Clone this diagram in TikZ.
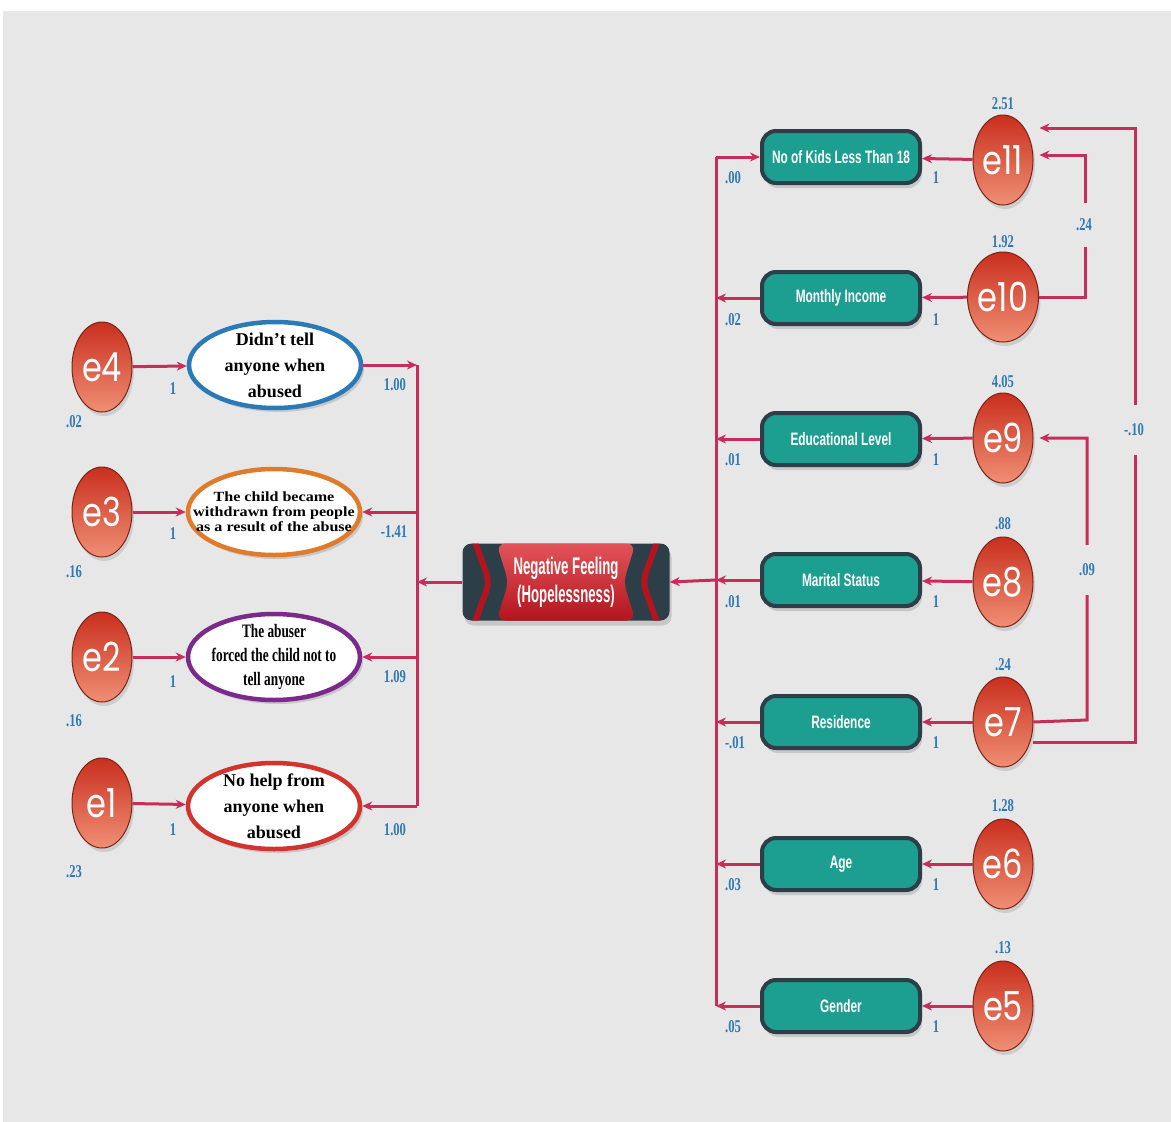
\documentclass[tikz,border=0pt]{standalone}
\usepackage{fontspec}
\setmainfont{Liberation Serif}
\newfontfamily\numfont[FakeStretch=0.7]{Liberation Serif}
\newfontfamily\boxfont[FakeStretch=0.66]{Liberation Sans}
\newfontfamily\negfont[FakeStretch=0.55]{Liberation Sans}
\newfontfamily\wideserif[FakeStretch=1.15]{Liberation Serif}
\newfontfamily\efont[FakeStretch=0.8]{Poppins}
\usetikzlibrary{shapes.geometric,arrows.meta,shadows,calc}
\definecolor{bg}{HTML}{E7E7E7}
\definecolor{conn}{HTML}{C82C5A}
\definecolor{lab}{HTML}{2E78B4}
\definecolor{tealbox}{HTML}{1C9E90}
\definecolor{slate}{HTML}{2C3E48}
\definecolor{ered}{HTML}{C92F1E}
\definecolor{elight}{HTML}{EF8F74}
\definecolor{eborder}{HTML}{7A2418}
\definecolor{redtop}{HTML}{E2545A}
\definecolor{redbot}{HTML}{B3141E}
\definecolor{ib}{HTML}{2A7AB8}
\definecolor{io}{HTML}{E07B2C}
\definecolor{ip}{HTML}{7B2A8C}
\definecolor{ir}{HTML}{D0342C}
\tikzset{
  x=1pt, y=-1pt,
  wire/.style={draw=conn, line width=3pt},
  conn/.style={wire, -{Stealth[length=10pt,width=9pt]}},
  lbl/.style={text=lab, font=\numfont\bfseries\fontsize{18}{18}\selectfont, inner sep=0},
  gaplbl/.style={lbl, fill=bg, minimum height=44pt, inner xsep=2pt},
  errnode/.style={ellipse, minimum width=60pt, minimum height=90pt, inner sep=0,
    draw=eborder, line width=1pt, top color=ered, bottom color=elight, text=white,
    font=\efont\fontsize{40}{40}\selectfont,
    drop shadow={opacity=0.25, shadow xshift=2pt, shadow yshift=-4pt}},
  item/.style={ellipse, minimum width=172pt, minimum height=86pt, fill=white,
    line width=4.5pt, inner sep=0,
    drop shadow={opacity=0.3, shadow xshift=3pt, shadow yshift=-4pt}},
  itemtext/.style={align=center, inner sep=0},
  varbox/.style={rounded corners=14pt, minimum width=158pt, minimum height=52pt,
    fill=tealbox, draw=slate, line width=4pt, text=white,
    font=\boxfont\bfseries\fontsize{18}{18}\selectfont,
    drop shadow={opacity=0.3, shadow xshift=2pt, shadow yshift=-5pt}},
}
\begin{document}
\begin{tikzpicture}
\useasboundingbox (0,0) rectangle (1171,1122);
\fill[white] (0,0) rectangle (1171,1122);
\fill[bg] (3,11) rectangle (1171,1122);

% ---------- left side ----------
\node[errnode] (e4) at (102,367) {e4};
\node[errnode] (e3) at (102,512) {e3};
\node[errnode] (e2) at (102,657) {e2};
\node[errnode] (e1) at (102,803) {e1};

\node[item, draw=ib, label={[itemtext, font=\bfseries\fontsize{18}{26}\selectfont]center:Didn't tell\\anyone when\\abused}] (i4) at (275,365) {};
\node[item, draw=io, label={[itemtext, font=\wideserif\bfseries\fontsize{14}{15}\selectfont]center:The child became\\withdrawn from people\\as a result of the abuse}] (i3) at (274,512) {};
\node[item, draw=ip, label={[itemtext, font=\numfont\bfseries\fontsize{19}{24}\selectfont]center:The abuser\\forced the child not to\\tell anyone}] (i2) at (274,657) {};
\node[item, draw=ir, label={[itemtext, font=\bfseries\fontsize{18}{26}\selectfont]center:No help from\\anyone when\\abused}] (i1) at (274,806) {};

\draw[conn] (e4) -- (i4);
\draw[conn] (e3) -- (i3);
\draw[conn] (e2) -- (i2);
\draw[conn] (e1) -- (i1);

\coordinate (lb4) at (417,365);
\coordinate (lb3) at (417,512);
\coordinate (lb2) at (417,657);
\coordinate (lb1) at (417,806);
\coordinate (lbc) at (417,582);
\draw[wire] (lb4) -- (lb1);
\draw[conn] (i4.east) -- (lb4);
\draw[conn] (lb3) -- (i3.east);
\draw[conn] (lb2) -- (i2.east);
\draw[conn] (lb1) -- (i1.east);

\node[lbl] (l1a) at (173,389) {1};
\node[lbl] (l1b) at (173,534) {1};
\node[lbl] (l1c) at (173,682) {1};
\node[lbl] (l1d) at (173,830) {1};
\node[lbl] (v4) at (74,422) {.02};
\node[lbl] (v3) at (74,572) {.16};
\node[lbl] (v2) at (74,721) {.16};
\node[lbl] (v1) at (74,872) {.23};
\node[lbl] (w4) at (395,385) {1.00};
\node[lbl] (w3) at (394,532) {-1.41};
\node[lbl] (w2) at (395,677) {1.09};
\node[lbl] (w1) at (395,830) {1.00};

% ---------- central latent ----------
\node[rounded corners=9pt, minimum width=207pt, minimum height=77pt, fill=slate,
  text=white, align=center, inner sep=0,
  font=\negfont\bfseries\fontsize{24}{28}\selectfont,
  drop shadow={opacity=0.3, shadow xshift=2pt, shadow yshift=-5pt},
  path picture={
    \coordinate (pnw) at (path picture bounding box.north west);
    \coordinate (psw) at (path picture bounding box.south west);
    \coordinate (pne) at (path picture bounding box.north east);
    \coordinate (pse) at (path picture bounding box.south east);
    \shade[top color=redtop, bottom color=redbot]
      ($(pnw)+(34pt,0)$) -- ($(pne)+(-34pt,0)$) -- ($(pne)!0.5!(pse)+(-46pt,0)$)
      -- ($(pse)+(-34pt,0)$) -- ($(psw)+(34pt,0)$) -- ($(pnw)!0.5!(psw)+(46pt,0)$) -- cycle;
    \draw[redbot, line width=6pt] ($(pnw)+(12pt,3pt)$) -- ($(pnw)!0.5!(psw)+(27pt,0)$) -- ($(psw)+(12pt,-3pt)$);
    \draw[redbot, line width=6pt] ($(pne)+(-12pt,3pt)$) -- ($(pne)!0.5!(pse)+(-27pt,0)$) -- ($(pse)+(-12pt,-3pt)$);
  }] (neg) at (566,582) {Negative Feeling\\(Hopelessness)};

\draw[conn] (neg.west) -- (lbc);

% ---------- right side ----------
\node[varbox] (kids) at (841,157) {No of Kids Less Than 18};
\node[varbox] (inc) at (841,298) {Monthly Income};
\node[varbox] (edu) at (841,439) {Educational Level};
\node[varbox] (mar) at (841,580) {Marital Status};
\node[varbox] (res) at (841,722) {Residence};
\node[varbox] (age) at (841,864) {Age};
\node[varbox] (gen) at (841,1006) {Gender};

\node[errnode] (e11) at (1003,160) {e11};
\node[errnode] (e10) at (1003,297) {e10};
\node[errnode] (e9) at (1003,438) {e9};
\node[errnode] (e8) at (1003,582) {e8};
\node[errnode] (e7) at (1003,722) {e7};
\node[errnode] (e6) at (1003,864) {e6};
\node[errnode] (e5) at (1003,1006) {e5};

\draw[conn] (e11) -- (kids);
\draw[conn] (e10) -- (inc);
\draw[conn] (e9) -- (edu);
\draw[conn] (e8) -- (mar);
\draw[conn] (e7) -- (res);
\draw[conn] (e6) -- (age);
\draw[conn] (e5) -- (gen);

\coordinate (rb1) at (716,157);
\coordinate (rb2) at (716,298);
\coordinate (rb3) at (716,439);
\coordinate (rb4) at (716,580);
\coordinate (rb5) at (716,722);
\coordinate (rb6) at (716,864);
\coordinate (rb7) at (716,1006);
\draw[wire] (rb1) -- (rb7);
\draw[conn] (rb1) -- (kids.west);
\draw[conn] (inc.west) -- (rb2);
\draw[conn] (edu.west) -- (rb3);
\draw[conn] (mar.west) -- (rb4);
\draw[conn] (res.west) -- (rb5);
\draw[conn] (age.west) -- (rb6);
\draw[conn] (gen.west) -- (rb7);
\draw[conn] (rb4) -- (neg.east);

% covariances
\coordinate (ca1) at (1085,297);
\coordinate (ca2) at (1085,155);
\draw[conn, shorten >=6pt] (e10.east) -- (ca1) -- (ca2) -- (e11.east |- ca2);
\coordinate (cb1) at (1087,720);
\coordinate (cb2) at (1087,438);
\draw[conn, shorten >=6pt] (e7.east) -- (cb1) -- (cb2) -- (e9.east |- cb2);
\coordinate (cc0) at ($(e7.center)+(30pt,-20pt)$);
\coordinate (cc1) at (1135,742);
\coordinate (cc2) at (1135,128);
\draw[conn, shorten >=6pt] (cc0) -- (cc1) -- (cc2) -- (e11.east |- cc2);

\node[gaplbl] (k1) at (1084,225) {.24};
\node[gaplbl, minimum height=50pt] (k2) at (1087,570) {.09};
\node[gaplbl, minimum height=50pt] (k3) at (1134,430) {-.10};

% right labels
\foreach \n/\y in {r1/178, r2/320, r3/460, r4/602, r5/743, r6/885, r7/1027}
  \node[lbl] (\n) at (936,\y) {1};
\node[lbl] (p1) at (733,178) {.00};
\node[lbl] (p2) at (733,320) {.02};
\node[lbl] (p3) at (733,460) {.01};
\node[lbl] (p4) at (733,602) {.01};
\node[lbl] (p5) at (735,743) {-.01};
\node[lbl] (p6) at (733,885) {.03};
\node[lbl] (p7) at (733,1027) {.05};
\node[lbl] (q11) at (1003,104) {2.51};
\node[lbl] (q10) at (1003,242) {1.92};
\node[lbl] (q9) at (1003,382) {4.05};
\node[lbl] (q8) at (1003,524) {.88};
\node[lbl] (q7) at (1003,665) {.24};
\node[lbl] (q6) at (1003,806) {1.28};
\node[lbl] (q5) at (1003,948) {.13};
\end{tikzpicture}
\end{document}
